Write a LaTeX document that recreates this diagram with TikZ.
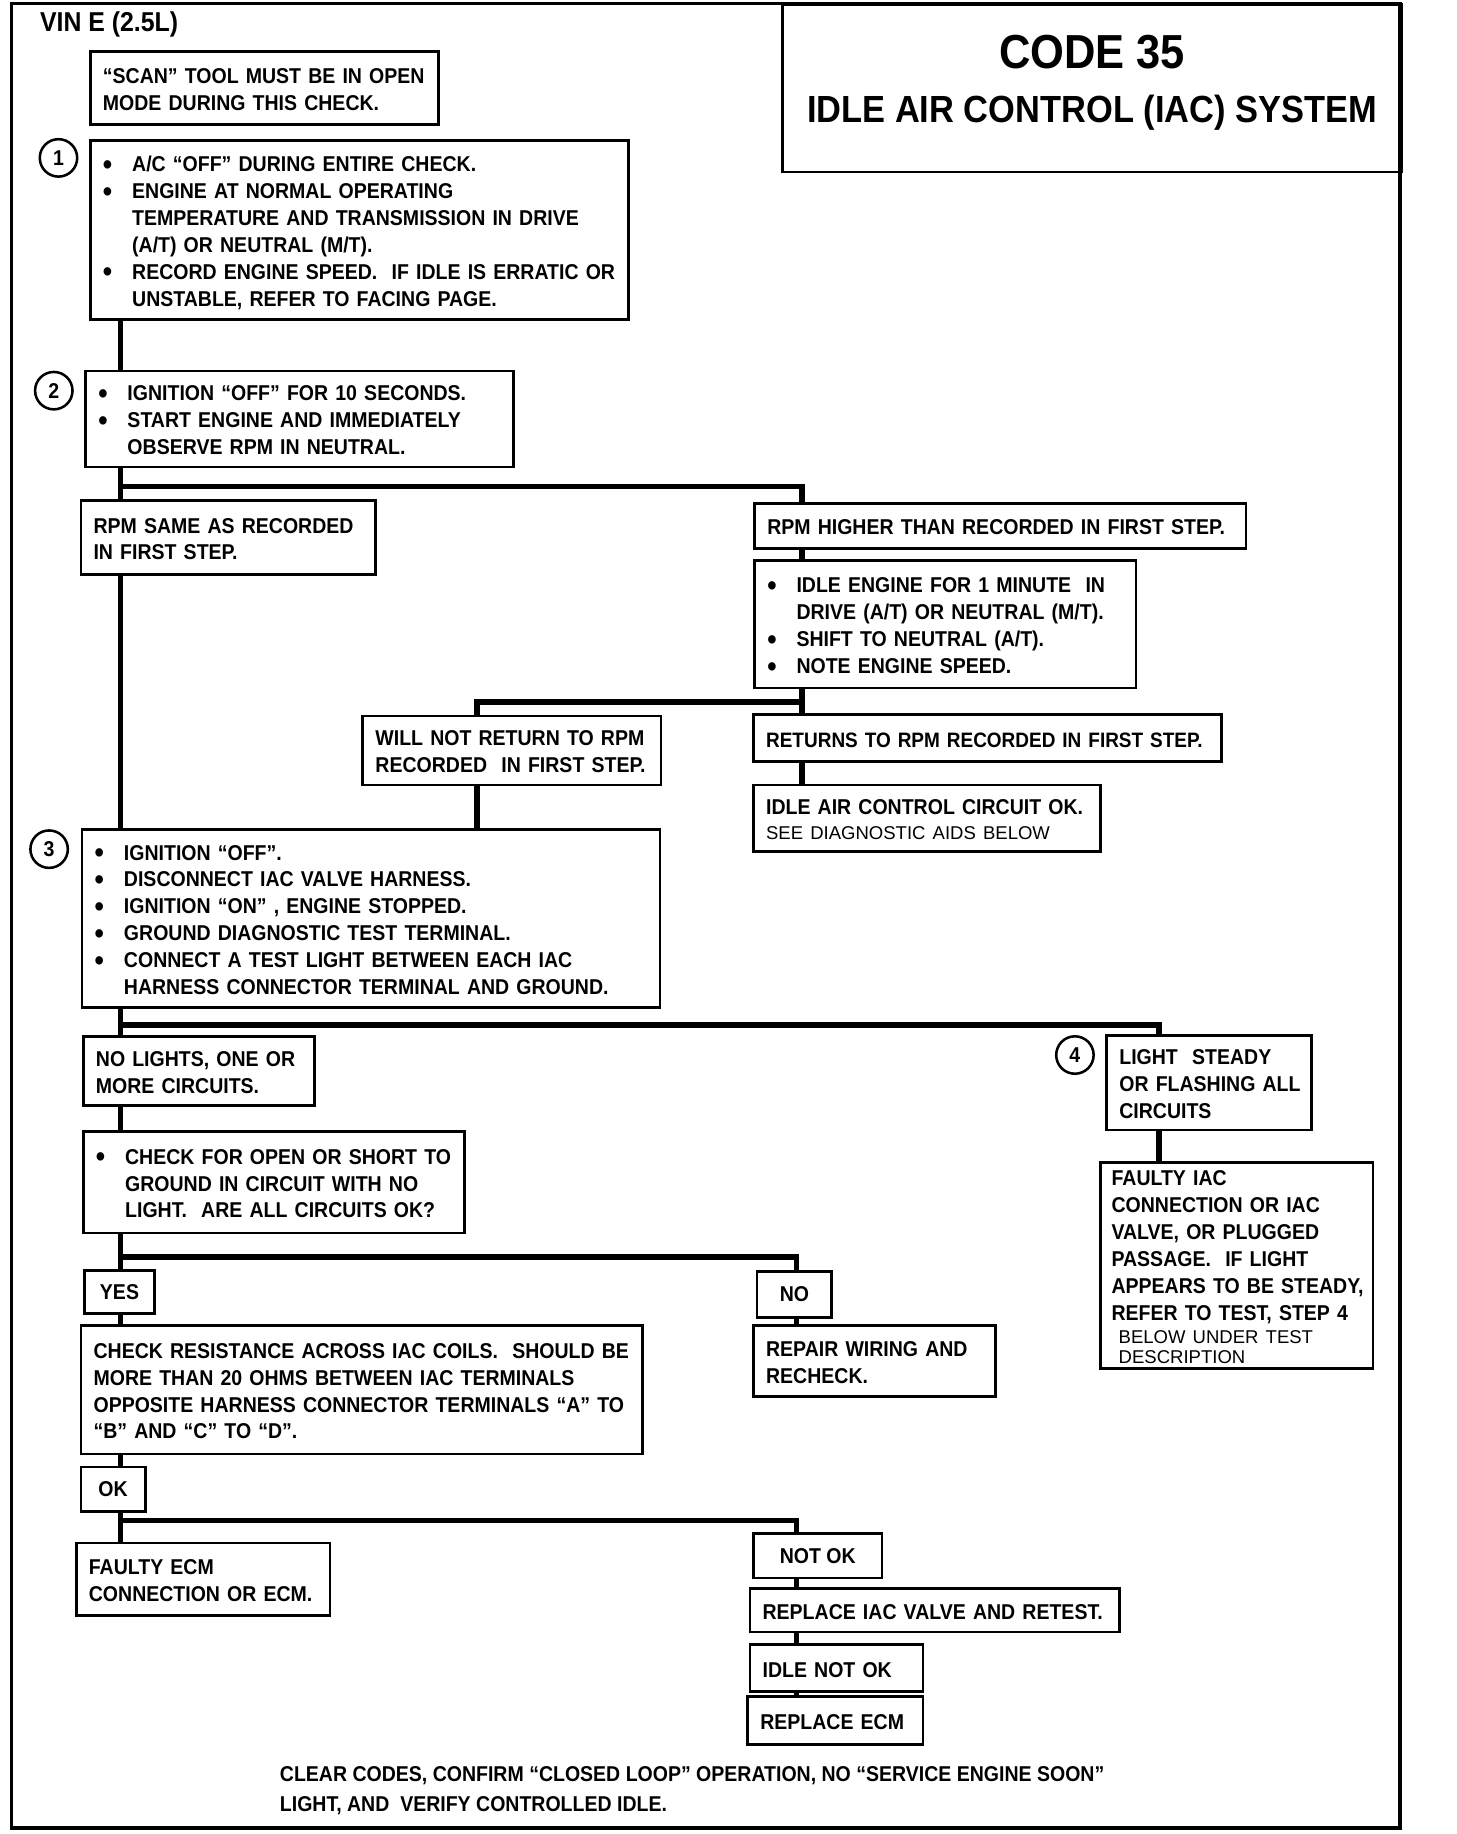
\documentclass[tikz,border=0pt]{standalone}
\usepackage{fontspec}
\setmainfont{Liberation Sans}[FakeStretch=0.91]
\newfontfamily\aidfont{Liberation Sans}

\newcommand{\flowfont}{\fontsize{11}{13.8}\selectfont\bfseries}
\newcommand{\aidtext}[1]{{\aidfont\mdseries\fontsize{9.5}{11}\selectfont #1}}
\newcommand{\itm}{\makebox[15pt][l]{\raisebox{-1.4pt}{\fontsize{15}{13.8}\selectfont\textbullet}}}
\newcommand{\cont}{\hspace*{15pt}}
\newcommand{\lines}[1]{\begin{tabular}{@{}l@{}}#1\\[-3.6pt]\end{tabular}}
\setlength{\parindent}{0pt}

\begin{document}
\begin{tikzpicture}[
    x=0.6pt, y=-0.6pt,
    box/.style={
        draw,
        line width=1.4pt,
        anchor=north west,
        align=left,
        inner xsep=6.5pt,
        inner ysep=2pt,
        font=\flowfont
    },
    tag/.style={
        draw,
        line width=1.4pt,
        anchor=north west,
        inner sep=0pt,
        font=\flowfont
    },
    num/.style={
        circle,
        draw,
        line width=1.3pt,
        minimum size=19.2pt,
        inner sep=0pt,
        font=\flowfont
    },
    link/.style={line width=3pt}
]
\useasboundingbox (0,0) rectangle (1245,1568);

% Frame and heading
\draw[line width=1.8pt] (10,3) rectangle (1197,1563);
\node[anchor=west, inner sep=0pt, font=\fontsize{14}{16}\selectfont\bfseries] (vin) at (34,21) {VIN E (2.5L)};
\node[tag, minimum width=317.4pt, minimum height=85.8pt] (title) at (668,3) {%
    \fontsize{19.4}{27.6}\selectfont
    \begin{tabular}{@{}c@{}}
    {\fontsize{24.5}{27.6}\selectfont CODE 35}\\
    IDLE AIR CONTROL (IAC) SYSTEM\\[4.2pt]
    \end{tabular}};

% Trunk lines and junctions
\coordinate (lx) at (103,0);
\coordinate (mx) at (686,0);
\coordinate (wx) at (408,0);
\coordinate (rx) at (991,0);
\coordinate (nx) at (681,0);
\coordinate (b2) at (0,416);
\coordinate (b3) at (0,600);
\coordinate (b4) at (0,876);
\coordinate (b5) at (0,1075);
\coordinate (b6) at (0,1300);

% Steps 1 and 2
\node[box, text width=165.8pt, minimum height=37.2pt] (scan) at (76,43) {\lines{%
    “SCAN” TOOL MUST BE IN OPEN\\
    MODE  DURING THIS CHECK.}};

\node[num] (n1) at (50,135) {1};
\node[box, text width=263pt, minimum height=91.8pt] (step1) at (76,119) {\lines{%
    \itm A/C “OFF” DURING ENTIRE CHECK.\\
    \itm ENGINE AT NORMAL OPERATING\\
    \cont TEMPERATURE AND TRANSMISSION IN DRIVE\\
    \cont (A/T) OR NEUTRAL (M/T).\\
    \itm RECORD ENGINE SPEED.\ \ IF IDLE IS ERRATIC OR\\
    \cont UNSTABLE, REFER TO FACING PAGE.}};

\node[num] (n2) at (46,334) {2};
\node[box, text width=206.6pt, minimum height=49.2pt] (step2) at (72,316) {\lines{%
    \itm IGNITION “OFF” FOR 10 SECONDS.\\
    \itm START ENGINE AND IMMEDIATELY\\
    \cont OBSERVE RPM IN NEUTRAL.}};

% RPM branches
\node[box, text width=138.2pt, minimum height=37.8pt] (same) at (68,427) {\lines{%
    RPM SAME AS RECORDED\\
    IN FIRST STEP.}};
\node[box, text width=239pt, minimum height=23.4pt] (higher) at (644,429) {\lines{%
    RPM HIGHER THAN RECORDED IN FIRST STEP.}};
\node[box, text width=182.6pt, minimum height=65.4pt] (idle1min) at (644,478) {\lines{%
    \itm IDLE ENGINE FOR 1 MINUTE\ \ IN\\
    \cont DRIVE (A/T) OR NEUTRAL (M/T).\\
    \itm SHIFT TO NEUTRAL (A/T).\\
    \itm NOTE ENGINE SPEED.}};
\node[box, text width=140pt, minimum height=35.4pt] (willnot) at (309,611) {\lines{%
    WILL NOT RETURN TO RPM\\
    RECORDED\ \ IN FIRST STEP.}};
\node[box, text width=227pt, minimum height=24pt, font=\fontsize{10.7}{13.8}\selectfont\bfseries] (returns) at (643,610) {\lines{%
    RETURNS TO RPM RECORDED IN FIRST STEP.}};
\node[box, text width=165.2pt, minimum height=34.2pt] (circok) at (643,670) {\lines{%
    IDLE AIR CONTROL CIRCUIT OK.\\[-1.2pt]
    \aidtext{SEE DIAGNOSTIC AIDS BELOW}}};

% Step 3
\node[num] (n3) at (42,726) {3};
\node[box, text width=283.4pt, minimum height=91.2pt] (step3) at (69,708) {\lines{%
    \itm IGNITION “OFF”.\\
    \itm DISCONNECT IAC VALVE HARNESS.\\
    \itm IGNITION “ON” , ENGINE STOPPED.\\
    \itm GROUND DIAGNOSTIC TEST TERMINAL.\\
    \itm CONNECT A TEST LIGHT BETWEEN EACH IAC\\
    \cont HARNESS CONNECTOR TERMINAL AND GROUND.}};

% Test light results
\node[box, text width=105.8pt, minimum height=35.4pt] (nolights) at (70,885) {\lines{%
    NO LIGHTS, ONE OR\\
    MORE CIRCUITS.}};
\node[num] (n4) at (919,902) {4};
\node[box, text width=92pt, minimum height=48.6pt] (lightsteady) at (945,884) {\lines{%
    LIGHT\ \ STEADY\\
    OR FLASHING ALL\\
    CIRCUITS}};
\node[box, text width=128.6pt, minimum height=105.6pt, inner ysep=0pt, inner xsep=5.5pt] (faultyiac) at (940,993) {\lines{%
    FAULTY IAC\\
    CONNECTION OR IAC\\
    VALVE, OR PLUGGED\\
    PASSAGE.\ \ IF LIGHT\\
    APPEARS TO BE STEADY,\\
    REFER TO TEST, STEP 4\\[-1.8pt]
    \ \aidtext{BELOW UNDER TEST}\\[-3.6pt]
    \ \aidtext{DESCRIPTION}}};
\node[box, text width=182.6pt, minimum height=52.2pt] (checkopen) at (70,966) {\lines{%
    \itm CHECK FOR OPEN OR SHORT TO\\
    \cont GROUND IN CIRCUIT WITH NO\\
    \cont LIGHT.\ \ ARE ALL CIRCUITS OK?}};

% Circuit check answers
\node[tag, minimum width=36pt, minimum height=22.2pt] (yes) at (71,1085) {YES};
\node[tag, minimum width=38.4pt, minimum height=23.4pt] (no) at (646,1086) {NO};
\node[box, text width=275pt, minimum height=66pt] (checkres) at (68,1132) {\lines{%
    CHECK RESISTANCE ACROSS IAC COILS.\ \ SHOULD BE\\
    MORE THAN 20 OHMS BETWEEN IAC TERMINALS\\
    OPPOSITE HARNESS CONNECTOR TERMINALS “A” TO\\
    “B” AND “C” TO “D”.}};
\node[box, text width=111.2pt, minimum height=36.6pt] (repair) at (643,1132) {\lines{%
    REPAIR WIRING AND\\
    RECHECK.}};

% Resistance answers
\node[tag, minimum width=33pt, minimum height=22.8pt] (ok) at (68,1253) {OK};
\node[box, text width=117.2pt, minimum height=37.2pt] (faultyecm) at (64,1318) {\lines{%
    FAULTY ECM\\
    CONNECTION OR ECM.}};
\node[tag, minimum width=66pt, minimum height=22.8pt] (notok) at (643,1310) {NOT OK};
\node[box, text width=176.6pt, minimum height=22.2pt] (replaceiac) at (640,1357) {\lines{%
    REPLACE IAC VALVE AND RETEST.}};
\node[box, text width=75.8pt, minimum height=24pt] (idlenotok) at (640,1405) {\lines{%
    IDLE NOT OK}};
\node[box, text width=77pt, minimum height=24.6pt] (replaceecm) at (638,1449) {\lines{%
    REPLACE ECM}};

% Closing note
\node[anchor=north west, inner sep=0pt, font=\flowfont] (clear) at (239,1507) {\lines{%
    CLEAR CODES, CONFIRM “CLOSED LOOP” OPERATION, NO “SERVICE ENGINE SOON”\\[1.2pt]
    LIGHT, AND\ \ VERIFY CONTROLLED IDLE.}};

% Connections
\draw[link] (step1.south -| lx) -- (step2.north -| lx);
\draw[link] (step2.south -| lx) -- (same.north -| lx);
\draw[link] (lx |- b2) -| (higher.north -| mx);
\draw[link] (same.south -| lx) -- (step3.north -| lx);
\draw[link] (higher.south -| mx) -- (idle1min.north -| mx);
\draw[link] (idle1min.south -| mx) -- (returns.north -| mx);
\draw[link] (mx |- b3) -| (willnot.north -| wx);
\draw[link] (returns.south -| mx) -- (circok.north -| mx);
\draw[link] (willnot.south -| wx) -- (step3.north -| wx);

\draw[link] (step3.south -| lx) -- (nolights.north -| lx);
\draw[link] (lx |- b4) -| (lightsteady.north -| rx);
\draw[link] (lightsteady.south -| rx) -- (faultyiac.north -| rx);
\draw[link] (nolights.south -| lx) -- (checkopen.north -| lx);

\draw[link] (checkopen.south -| lx) -- (yes.north -| lx);
\draw[link] (lx |- b5) -| (no.north -| nx);
\draw[link] (yes.south -| lx) -- (checkres.north -| lx);
\draw[link] (no.south -| nx) -- (repair.north -| nx);

\draw[link] (checkres.south -| lx) -- (ok.north -| lx);
\draw[link] (ok.south -| lx) -- (faultyecm.north -| lx);
\draw[link] (lx |- b6) -| (notok.north -| nx);
\draw[link] (notok.south -| nx) -- (replaceiac.north -| nx);
\draw[link] (replaceiac.south -| nx) -- (idlenotok.north -| nx);
\draw[link] (idlenotok.south -| nx) -- (replaceecm.north -| nx);

\end{tikzpicture}
\end{document}
